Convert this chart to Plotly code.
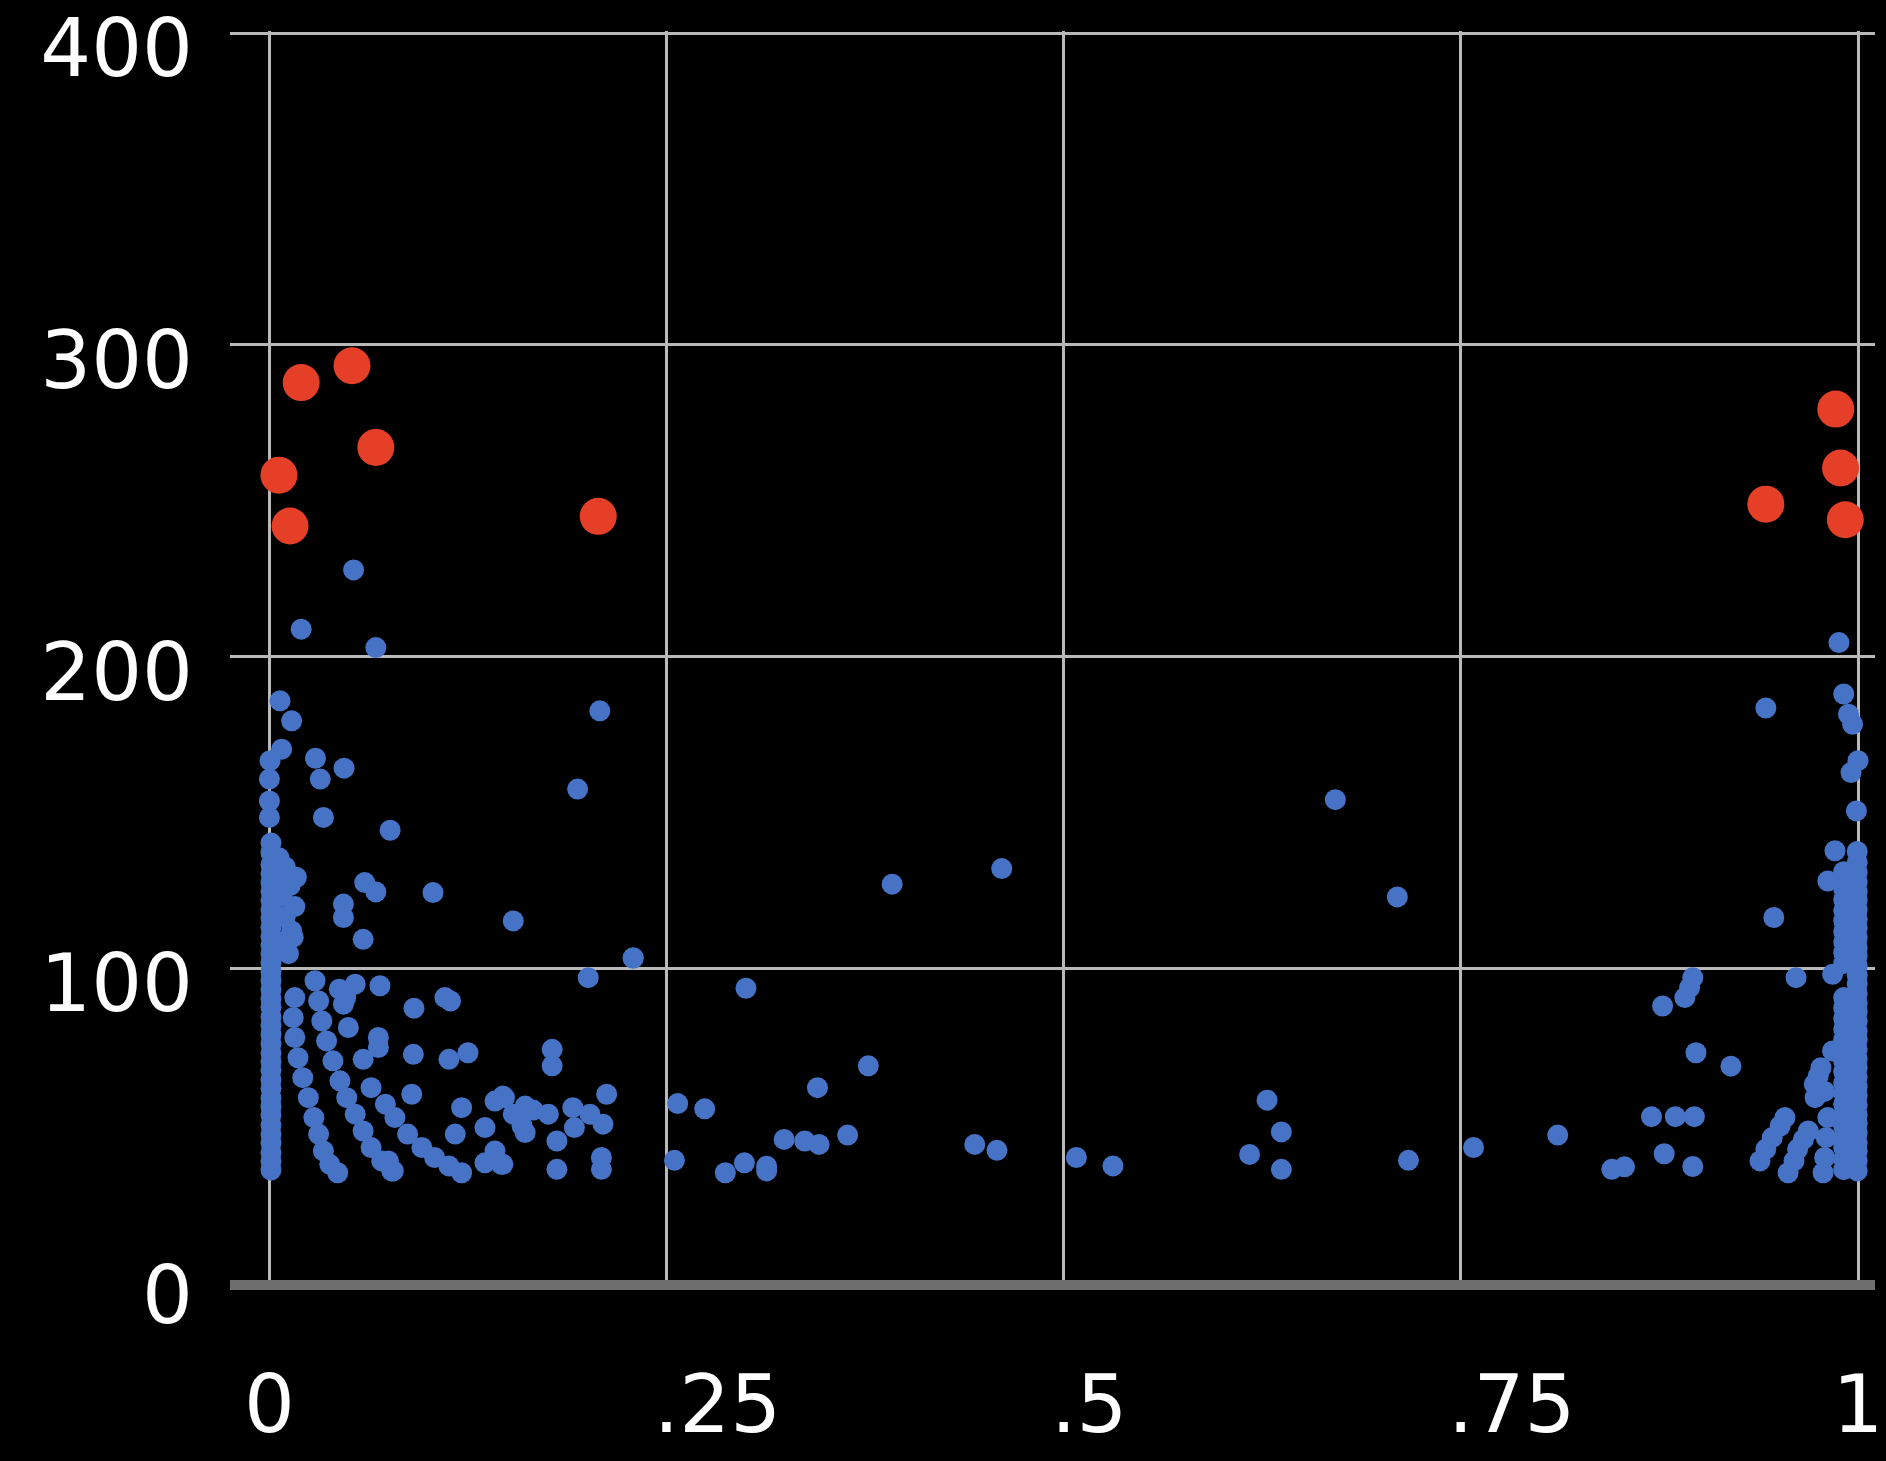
import plotly.graph_objects as go

# ---------------- data ----------------
# Highlighted (red) points
red_x = [0.006, 0.013, 0.020, 0.052, 0.067, 0.207, 0.942, 0.986, 0.989, 0.992]
red_y = [258.2, 241.9, 287.9, 293.3, 267.1, 245.0, 248.9, 279.4, 260.5, 243.9]

# Dense column at x ~ 0
left_col_x = [0.001] * 37 + [0.0, 0.0, 0.0, 0.0004]
left_col_y = [35.3, 38.1, 40.9, 44.0, 46.8, 49.7, 52.9, 55.6, 58.4, 61.5, 64.2, 67.3,
              70.1, 72.8, 75.9, 78.7, 81.6, 84.4, 87.5, 90.2, 93.1, 96.0, 98.8, 101.7,
              104.6, 107.4, 110.3, 113.2, 116.1, 118.9, 121.8, 124.7, 127.5, 130.4,
              133.3, 137.1, 140.2, 148.4, 153.7, 160.7, 166.6]

# Bulge beside the left column
left_bulge_x = [0.012, 0.009, 0.014, 0.010, 0.016, 0.008, 0.013, 0.017, 0.010, 0.006, 0.015, 0.007]
left_bulge_y = [104.7, 108.5, 112.0, 116.5, 119.8, 123.0, 126.5, 129.2, 132.5, 135.5, 110.0, 128.0]

# Upper left scatter
left_up_x = [0.0067, 0.014, 0.0077, 0.029, 0.032, 0.047, 0.034, 0.076, 0.020, 0.053, 0.067,
             0.208, 0.194, 0.060, 0.067, 0.0466, 0.0466, 0.059, 0.103, 0.1535, 0.229, 0.2007]
left_up_y = [185.8, 179.4, 170.3, 167.4, 160.7, 164.2, 148.4, 144.3, 208.8, 227.8, 202.9,
             182.6, 157.5, 127.5, 124.5, 120.6, 116.3, 109.3, 124.3, 115.2, 103.2, 97.0]

# Curved bands near the left
curve_a_x = [0.016, 0.015, 0.016, 0.018, 0.021, 0.0245, 0.028, 0.031, 0.034, 0.038, 0.043]
curve_a_y = [90.6, 84.2, 77.8, 71.3, 64.9, 58.5, 52.1, 46.8, 41.4, 37.1, 34.4]
curve_b_x = [0.0287, 0.031, 0.033, 0.036, 0.040, 0.0444, 0.0487, 0.054, 0.059, 0.064, 0.0707, 0.077]
curve_b_y = [96.0, 89.5, 83.1, 76.7, 70.3, 63.9, 58.5, 53.2, 47.8, 42.5, 38.2, 35.0]
curve_c_x = [0.064, 0.073, 0.079, 0.087, 0.096, 0.104, 0.113, 0.121]
curve_c_y = [61.7, 56.4, 52.1, 46.8, 42.5, 39.3, 36.6, 34.4]

# Lower left cluster
left_low_x = [0.048, 0.044, 0.0466, 0.054, 0.0696, 0.0497, 0.0686, 0.0686, 0.059, 0.0749, 0.078,
              0.091, 0.1105, 0.114, 0.0906, 0.113, 0.125, 0.0896, 0.121, 0.142, 0.147, 0.117,
              0.1357, 0.142, 0.1357, 0.146, 0.166, 0.159,
              0.178, 0.178, 0.2123, 0.148, 0.161, 0.1535, 0.1756, 0.191, 0.2018, 0.210,
              0.161, 0.192, 0.181, 0.147, 0.181, 0.209, 0.209]
left_low_y = [90.6, 93.3, 88.5, 94.9, 94.4, 81.0, 77.8, 74.6, 70.8, 38.2, 35.0,
              87.2, 90.6, 89.5, 72.4, 70.8, 72.9, 59.6, 55.3, 57.4, 59.0, 46.8,
              48.9, 41.4, 37.6, 37.1, 54.5, 49.5,
              74.0, 68.7, 59.6, 58.5, 55.8, 53.2, 53.2, 55.3, 53.2, 50.0,
              47.3, 48.9, 44.6, 37.1, 35.5, 39.3, 35.5]

# Middle scatter
mid_x = [0.229, 0.300, 0.377, 0.345, 0.257, 0.274, 0.255, 0.287, 0.299, 0.313, 0.313, 0.324,
         0.337, 0.346, 0.364, 0.444, 0.458, 0.508, 0.531, 0.617, 0.628, 0.637, 0.637, 0.392,
         0.461, 0.671, 0.710, 0.717, 0.758, 0.811]
mid_y = [103.4, 93.6, 68.7, 61.7, 56.6, 54.9, 38.4, 34.4, 37.6, 35.0, 36.5, 45.1,
         44.6, 43.5, 46.5, 43.5, 41.6, 39.3, 36.6, 40.3, 57.7, 47.5, 35.5, 127.0,
         132.0, 154.1, 122.9, 38.4, 42.5, 46.5]

# Right scatter
right_x = [0.845, 0.853, 0.870, 0.885, 0.897, 0.878, 0.896, 0.877, 0.891, 0.894, 0.896, 0.898,
           0.920, 0.942, 0.947, 0.961, 0.984, 0.988, 0.991, 0.994, 0.9966, 1.0, 0.9956, 0.999,
           0.9855, 0.981]
right_y = [35.5, 36.3, 52.4, 52.4, 52.4, 40.5, 36.4, 87.9, 90.6, 93.8, 97.0, 72.9,
           68.6, 183.5, 116.3, 97.0, 98.1, 204.5, 188.0, 181.5, 178.3, 166.6, 162.8, 150.5,
           137.7, 128.0]

# Slanted bands near the right
right_curves_x = [0.9383, 0.942, 0.946, 0.951, 0.954,
                  0.956, 0.9597, 0.962, 0.9656, 0.9687,
                  0.978, 0.979, 0.980, 0.981, 0.973, 0.9725, 0.9767, 0.984, 0.975, 0.979]
right_curves_y = [38.2, 42.0, 45.7, 49.4, 52.1,
                  34.4, 38.2, 42.0, 45.1, 47.8,
                  34.4, 39.3, 45.7, 52.1, 58.5, 62.8, 68.1, 73.5, 65.5, 60.5]

# Dense columns at x ~ 1
right_col1_y = [35.0, 38.2, 41.3, 44.1, 47.2, 50.3, 53.0, 56.1, 59.2, 62.0, 65.1, 68.2, 70.9,
                74.0, 77.1, 79.9, 83.0, 86.1, 88.8, 91.9, 95.0, 97.8, 100.9, 104.0, 106.7,
                109.8, 112.9, 115.7, 118.8, 121.9, 124.6, 127.7, 130.8, 134.0, 137.5]
right_col1_x = [0.9995] * len(right_col1_y)
right_col2_y = [35.4, 38.8, 42.5, 46.0, 49.3, 53.1, 56.4, 59.9, 63.2, 66.8, 70.2, 73.6, 77.1,
                80.5, 83.9, 87.3, 90.6, 101.5, 105.0, 108.4, 111.8, 115.3, 118.6, 122.1,
                125.4, 131.0]
right_col2_x = [0.991] * len(right_col2_y)

x_ticks = [0, 0.25, 0.5, 0.75, 1]
x_ticktext = ["0", ".25", ".5", ".75", "1"]
y_ticks = [0, 100, 200, 300, 400]
y_ticktext = ["0", "100", "200", "300", "400"]

blue_x = (left_col_x + left_bulge_x + left_up_x + curve_a_x + curve_b_x + curve_c_x +
          left_low_x + mid_x + right_x + right_curves_x + right_col1_x + right_col2_x)
blue_y = (left_col_y + left_bulge_y + left_up_y + curve_a_y + curve_b_y + curve_c_y +
          left_low_y + mid_y + right_y + right_curves_y + right_col1_y + right_col2_y)

BLUE = "#4673C6"
RED = "#E53F27"
GRID = "#B9B9B9"
FONT = "DejaVu Sans"
FS = 80

# the reference places the x labels a little right of their gridlines
NB = "\u00a0"
x_label_pad = [0, 4, 2, 4, 0]
x_ticktext_shown = [NB * p + t for p, t in zip(x_label_pad, x_ticktext)]

fig = go.Figure()
fig.add_trace(go.Scatter(x=blue_x, y=blue_y, mode="markers",
                         marker=dict(color=BLUE, size=21, line=dict(width=0)),
                         showlegend=False, hoverinfo="x+y"))
fig.add_trace(go.Scatter(x=red_x, y=red_y, mode="markers",
                         marker=dict(color=RED, size=37, line=dict(width=0)),
                         showlegend=False, hoverinfo="x+y"))

fig.update_layout(
    width=1886, height=1461,
    paper_bgcolor="black", plot_bgcolor="black",
    margin=dict(l=230, r=11, t=31, b=181, pad=0),
    font=dict(family=FONT, color="white", size=FS),
    xaxis=dict(range=[-0.0248, 1.0107], tickvals=x_ticks, ticktext=x_ticktext_shown,
               showgrid=True, gridcolor=GRID, gridwidth=3, zeroline=False,
               showline=True, linecolor="#6E6E6E", linewidth=10,
               ticks="", ticklabelstandoff=46, automargin=False,
               ticklabeloverflow="allow",
               tickfont=dict(family=FONT, size=FS, color="white")),
    yaxis=dict(range=[0, 400.7], tickvals=y_ticks, ticktext=y_ticktext,
               showgrid=True, gridcolor=GRID, gridwidth=3, zeroline=False,
               showline=False, ticks="", ticklabelstandoff=36, ticklabelshift=15,
               automargin=False, ticklabeloverflow="allow",
               tickfont=dict(family=FONT, size=FS, color="white")),
)

fig.write_html("out.html",
               config={"displayModeBar": False},
               post_script="document.body.style.margin='0';"
                           "document.body.style.overflow='hidden';"
                           "document.body.style.background='black';")
